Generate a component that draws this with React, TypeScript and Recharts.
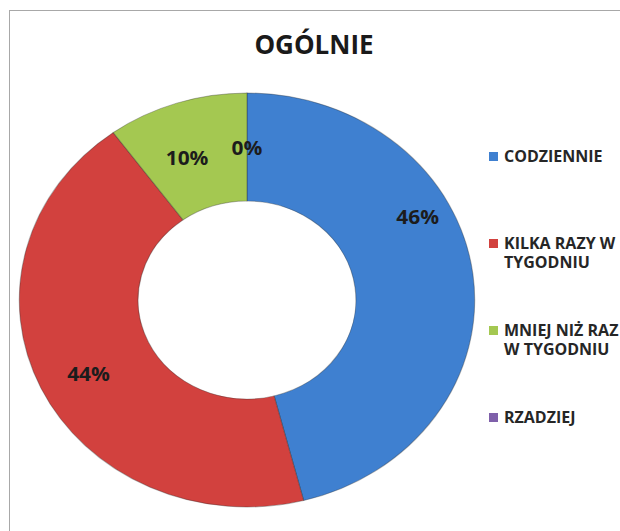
import { PieChart, Pie, Cell } from "recharts";

const categories = ["CODZIENNIE", "KILKA RAZY W TYGODNIU", "MNIEJ NIŻ RAZ W TYGODNIU", "RZADZIEJ"];
const shares = [46, 44, 10, 0];
const COLORS = ["#3f80d0", "#d2413e", "#a4c851", "#7f60aa"];

// small per-slice tweak so labels sit where the original puts them (deg, px)
const LABEL_NUDGE = [
  [21, 23],
  [2, 9],
  [3, -1],
  [0, -1]
];

const FONT = "'Open Sans', 'DejaVu Sans', sans-serif";
const RAD = Math.PI / 180;

const chartData = categories.map((name, i) => ({ name, value: shares[i] }));

function renderLabel(props: any) {
  const { cx, cy, midAngle, innerRadius, outerRadius, index, value } = props;
  const [da, dr] = LABEL_NUDGE[index] ?? [0, 0];
  const r = (innerRadius + outerRadius) / 2 + dr;
  const a = (midAngle + da) * RAD;
  const x = cx + r * Math.cos(a);
  const y = cy - r * Math.sin(a);
  return (
    <text
      x={x}
      y={y}
      textAnchor="middle"
      dominantBaseline="central"
      fill="#1c1c1c"
      fontFamily={FONT}
      fontWeight={700}
      fontSize={19}
    >
      {`${value}%`}
    </text>
  );
}

export default function App() {
  // fixed so the frame can run to the window edge without making scrollbars
  return (
    <div
      style={{
        position: "fixed",
        left: 0,
        top: 0,
        width: 620,
        height: 531,
        overflow: "hidden",
        background: "#fff",
        fontFamily: FONT
      }}
    >
      <div
        style={{
          position: "absolute",
          left: 9,
          top: 10,
          width: 700,
          height: 600,
          border: "1.5px solid #a8a8a8"
        }}
      />
      <div
        style={{
          position: "absolute",
          left: 8,
          width: 612,
          top: 26,
          textAlign: "center",
          fontSize: 26,
          fontWeight: 700,
          color: "#1a1a1a"
        }}
      >
        OGÓLNIE
      </div>

      <div
        style={{
          position: "absolute",
          left: 27,
          top: 80,
          width: 440,
          height: 440,
          transform: "scaleX(1.1)",
          transformOrigin: "50% 50%"
        }}
      >
        <PieChart width={440} height={440}>
          <Pie
            data={chartData}
            dataKey="value"
            nameKey="name"
            cx={215}
            cy={215}
            innerRadius={99}
            outerRadius={207}
            startAngle={90}
            endAngle={-270}
            stroke="#2b2b2b"
            strokeOpacity={0.35}
            strokeWidth={1}
            label={renderLabel}
            labelLine={false}
            isAnimationActive={false}
          >
            {chartData.map((_, i) => (
              <Cell key={i} fill={COLORS[i]} />
            ))}
          </Pie>
        </PieChart>
      </div>

      <div style={{ position: "absolute", left: 489, top: 147 }}>
        {categories.map((name, i) => (
          <div key={name} style={{ position: "absolute", top: i * 87, left: 0, display: "flex", width: 140 }}>
            <div
              style={{
                width: 9,
                height: 9,
                marginTop: 5,
                marginRight: 6,
                flex: "none",
                background: COLORS[i]
              }}
            />
            <div
              style={{
                width: 122,
                fontSize: 16,
                lineHeight: "19px",
                fontWeight: 700,
                color: "#262626"
              }}
            >
              {name}
            </div>
          </div>
        ))}
      </div>
    </div>
  );
}
